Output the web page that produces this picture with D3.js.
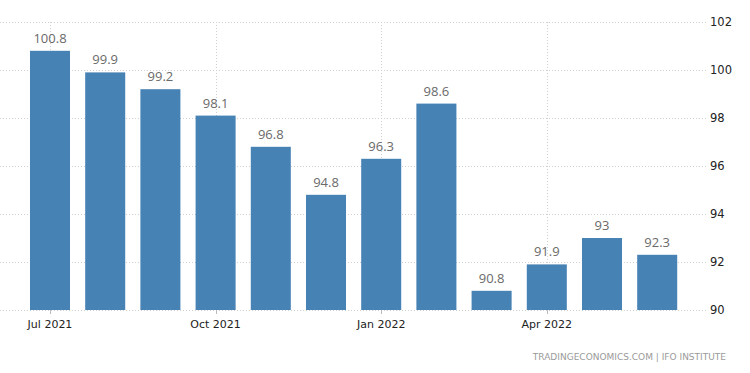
<!DOCTYPE html>
<html><head><meta charset="utf-8">
<script src="https://cdn.jsdelivr.net/npm/d3@7"></script>
<style>body{margin:0;background:#fff}svg{display:block}</style>
</head><body>
<svg id="c" width="750" height="373"></svg>
<script>
const months = ["Jul 2021","Aug 2021","Sep 2021","Oct 2021","Nov 2021","Dec 2021","Jan 2022","Feb 2022","Mar 2022","Apr 2022","May 2022","Jun 2022"];
const values = [100.8, 99.9, 99.2, 98.1, 96.8, 94.8, 96.3, 98.6, 90.8, 91.9, 93, 92.3];
const valueLabels = ["100.8","99.9","99.2","98.1","96.8","94.8","96.3","98.6","90.8","91.9","93","92.3"];
const yTicks = [90, 92, 94, 96, 98, 100, 102];
const xTickLabels = ["Jul 2021","Oct 2021","Jan 2022","Apr 2022"];

const svg = d3.select("#c");
const x = d3.scaleBand().domain(months).range([22.4, 684.8]).paddingInner(0.275).paddingOuter(0.1375);
const y = d3.scaleLinear().domain([90, 102]).range([310, 22]);

// horizontal grid
svg.append("g").selectAll("line").data(yTicks).join("line")
  .attr("x1", 0).attr("x2", 708)
  .attr("y1", d => Math.round(y(d)) + 0.5).attr("y2", d => Math.round(y(d)) + 0.5)
  .attr("stroke", "#cfcfcf").attr("stroke-dasharray", "1,2");

// vertical grid
svg.append("g").selectAll("line").data(xTickLabels).join("line")
  .attr("x1", d => Math.round(x(d) + x.bandwidth()/2) + 0.5)
  .attr("x2", d => Math.round(x(d) + x.bandwidth()/2) + 0.5)
  .attr("y1", y(102)).attr("y2", y(90))
  .attr("stroke", "#cfcfcf").attr("stroke-dasharray", "1,2");

// bars
svg.append("g").selectAll("rect").data(values).join("rect")
  .attr("x", (d, i) => x(months[i]))
  .attr("width", x.bandwidth())
  .attr("y", d => y(d))
  .attr("height", d => y(90) - y(d))
  .attr("fill", "#4682b4");

// value labels
svg.append("g").selectAll("text").data(values).join("text")
  .attr("x", (d, i) => x(months[i]) + x.bandwidth()/2)
  .attr("y", d => y(d) - 8)
  .attr("text-anchor", "middle")
  .attr("font-family", "'Open Sans', sans-serif").attr("font-size", 13)
  .attr("fill", "#6a6a6a")
  .text((d, i) => valueLabels[i]);

// x axis ticks and labels
const xa = svg.append("g");
xa.selectAll("line").data(xTickLabels).join("line")
  .attr("x1", d => Math.round(x(d) + x.bandwidth()/2) + 0.5)
  .attr("x2", d => Math.round(x(d) + x.bandwidth()/2) + 0.5)
  .attr("y1", 310).attr("y2", 314).attr("stroke", "#bbb");
xa.selectAll("text").data(xTickLabels).join("text")
  .attr("x", d => x(d) + x.bandwidth()/2)
  .attr("y", 328)
  .attr("text-anchor", "middle")
  .attr("font-family", "'DejaVu Sans', sans-serif").attr("font-size", 11)
  .attr("fill", "#222")
  .text(d => d);

// y axis labels (right)
svg.append("g").selectAll("text").data(yTicks).join("text")
  .attr("x", 710)
  .attr("y", d => y(d) + 4)
  .attr("font-family", "'DejaVu Sans', sans-serif").attr("font-size", 11.5)
  .attr("fill", "#222")
  .text(d => d);

// source
svg.append("text")
  .attr("x", 726).attr("y", 360)
  .attr("text-anchor", "end")
  .attr("font-family", "'DejaVu Sans', sans-serif").attr("font-size", 9)
  .attr("fill", "#9a9a9a")
  .text("TRADINGECONOMICS.COM | IFO INSTITUTE");
</script>
</body></html>
